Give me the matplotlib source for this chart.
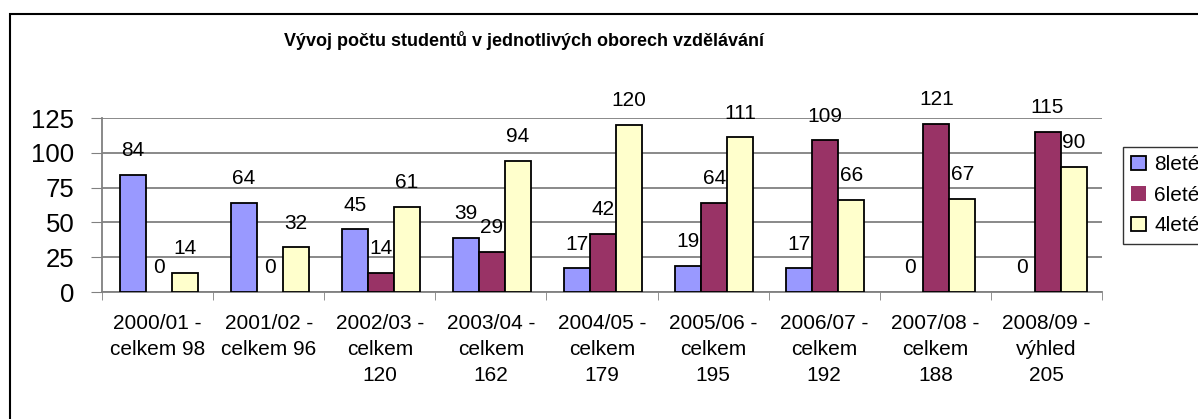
import numpy as np
import matplotlib
matplotlib.use("Agg")
import matplotlib.pyplot as plt
from matplotlib.patches import Rectangle

plt.rcParams["font.family"] = ["Liberation Sans", "DejaVu Sans"]

# Data
categories = [
    "2000/01 -\ncelkem 98",
    "2001/02 -\ncelkem 96",
    "2002/03 -\ncelkem\n120",
    "2003/04 -\ncelkem\n162",
    "2004/05 -\ncelkem\n179",
    "2005/06 -\ncelkem\n195",
    "2006/07 -\ncelkem\n192",
    "2007/08 -\ncelkem\n188",
    "2008/09 -\nvýhled\n205",
]
osmilete = [84, 64, 45, 39, 17, 19, 17, 0, 0]
sestilete = [0, 0, 14, 29, 42, 64, 109, 121, 115]
ctyrlete = [14, 32, 61, 94, 120, 111, 66, 67, 90]
series_names = ["8leté", "6leté", "4leté"]
colors = ["#9999FF", "#993366", "#FFFFCC"]

W, H = 1198, 419
fig = plt.figure(figsize=(W / 100, H / 100), dpi=100)
ax = fig.add_axes([102 / W, 1 - 292 / H, 1000 / W, 174 / H])

x = np.arange(len(categories))
bw = 0.234
series = [osmilete, sestilete, ctyrlete]
for i, (vals, name, col) in enumerate(zip(series, series_names, colors)):
    pos = x + (i - 1) * bw + 0.01
    bars = ax.bar(pos, vals, bw, color=col, edgecolor="black", linewidth=1.3,
                  label=name, zorder=3)
    for b, v in zip(bars, vals):
        if v == 0:
            b.set_linewidth(0)
    for p, v in zip(pos, vals):
        ax.annotate(str(v), (p, v), xytext=(0, 13.5), textcoords="offset points",
                    ha="center", va="baseline", fontsize=15, clip_on=False)

ax.set_xlim(-0.5, len(categories) - 0.5)
ax.set_ylim(0, 125)
ax.set_yticks([0, 25, 50, 75, 100, 125])
ax.tick_params(axis="y", labelsize=18.5, length=8, color="#808080", pad=12)
ax.set_xticks(x)
ax.set_xticklabels(categories, fontsize=15, linespacing=1.45)
ax.set_xticks(np.arange(-0.5, len(categories)), minor=True)
ax.tick_params(axis="x", which="major", length=0, pad=16)
ax.tick_params(axis="x", which="minor", length=6, color="#808080")
ax.grid(axis="y", color="#808080", linewidth=1.3, zorder=0)
for s in ["top", "right"]:
    ax.spines[s].set_visible(False)
for s in ["left", "bottom"]:
    ax.spines[s].set_color("#808080")
    ax.spines[s].set_linewidth(1.3)

fig.text(524 / W, 1 - 40 / H,
         "Vývoj počtu studentů v jednotlivých oborech vzdělávání",
         ha="center", va="center", fontsize=13, fontweight="bold")

leg = fig.legend(loc="upper left", bbox_to_anchor=(1123 / W, 1 - 147 / H),
                 fontsize=15, frameon=True, fancybox=False, borderaxespad=0,
                 handlelength=0.7, handleheight=0.7, handletextpad=0.4,
                 labelspacing=0.55, borderpad=0.4)
leg.get_frame().set_edgecolor("black")
leg.get_frame().set_linewidth(1.0)

# outer chart border
fig.patches.append(Rectangle((10 / W, -0.1), 1.2, 1.1 - 14 / H,
                             transform=fig.transFigure, fill=False,
                             edgecolor="black", linewidth=1.5))

fig.savefig("out.png", dpi=100)
